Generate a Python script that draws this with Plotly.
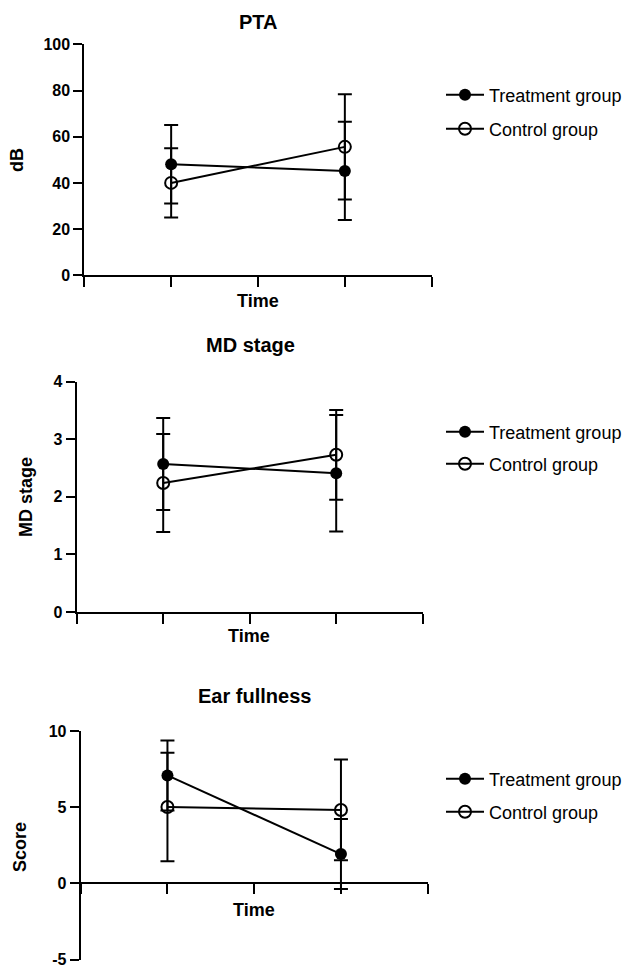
import plotly.graph_objects as go

W, H = 629, 969

# ---- data ----
time_pos = [1, 3]
groups = ["Treatment group", "Control group"]

pta_treat = [48.1, 45.2]
pta_treat_sd = [17.0, 21.3]
pta_ctrl = [40.0, 55.6]
pta_ctrl_sd = [15.0, 22.8]

md_treat = [2.57, 2.41]
md_treat_sd = [0.80, 1.01]
md_ctrl = [2.24, 2.73]
md_ctrl_sd = [0.85, 0.78]

ef_treat = [7.10, 1.93]
ef_treat_sd = [2.30, 2.30]
ef_ctrl = [5.02, 4.83]
ef_ctrl_sd = [3.57, 3.31]

titles = ["PTA", "MD stage", "Ear fullness"]
ytitles = ["dB", "MD stage", "Score"]
xtitle = "Time"
yranges = [[0, 100], [0, 4], [-5, 10]]
ytick_vals = [[0, 20, 40, 60, 80, 100], [0, 1, 2, 3, 4], [-5, 0, 5, 10]]
ytick_labels = [["0", "20", "40", "60", "80", "100"],
                ["0", "1", "2", "3", "4"],
                ["-5", "0", "5", "10"]]
xticks = [0, 1, 2, 3, 4]

FONT = "Liberation Sans, Arial, sans-serif"

def px_x(p):
    return p / W

def px_y(p):
    return 1 - p / H

# panel pixel geometry: (x_left, x_right, y_top, y_bottom)
panels = [
    (84.3, 431.7, 44.3, 275.3),
    (76.7, 422.7, 381.7, 612.0),
    (80.7, 427.7, 731.3, 959.5),
]
legend_rows_px = [(95, 129), (432, 464), (779, 812)]

data_sets = [
    (pta_treat, pta_treat_sd, pta_ctrl, pta_ctrl_sd),
    (md_treat, md_treat_sd, md_ctrl, md_ctrl_sd),
    (ef_treat, ef_treat_sd, ef_ctrl, ef_ctrl_sd),
]

fig = go.Figure()
layout_legends = {}
leg_n = 1

for i, (tr, trsd, ct, ctsd) in enumerate(data_sets):
    xa = "x" if i == 0 else f"x{i+1}"
    ya = "y" if i == 0 else f"y{i+1}"
    err = dict(type="data", visible=True, thickness=2, width=7, color="black")
    series = [
        (ct, ctsd, groups[1],
         dict(symbol="circle-open", size=12, color="black",
              line=dict(color="black", width=2))),
        (tr, trsd, groups[0],
         dict(symbol="circle", size=12, color="black")),
    ]
    rows = {groups[0]: legend_rows_px[i][0], groups[1]: legend_rows_px[i][1]}
    for vals, sds, name, mk in series:
        lname = "legend" if leg_n == 1 else f"legend{leg_n}"
        fig.add_trace(go.Scatter(
            x=time_pos, y=vals, error_y=dict(array=sds, **err),
            name=name, mode="lines+markers",
            line=dict(color="black", width=2), marker=mk,
            xaxis=xa, yaxis=ya, legend=lname, showlegend=True,
            cliponaxis=False,
        ))
        layout_legends[lname] = dict(
            x=px_x(441), y=px_y(rows[name]), xanchor="left", yanchor="middle",
            font=dict(family=FONT, size=18, color="black"),
            bgcolor="rgba(0,0,0,0)", borderwidth=0, itemwidth=38,
            itemclick=False, itemdoubleclick=False,
        )
        leg_n += 1

layout = dict(
    template="none",
    width=W, height=H,
    margin=dict(l=0, r=0, t=0, b=0, pad=0, autoexpand=False),
    paper_bgcolor="white", plot_bgcolor="white",
    font=dict(family=FONT, color="black"),
)
layout.update(layout_legends)

annotations = []
title_px = [(258, 22), (250, 345), (254, 696)]
ytitle_px = [(17, 160), (26, 497), (20, 847)]
time_px = [(258, 301), (249, 636), (254, 910)]

for i, (xl, xr, yt, yb) in enumerate(panels):
    sx = "" if i == 0 else str(i + 1)
    yr = yranges[i]
    ydom = [px_y(yb), px_y(yt)]
    xaxis = dict(
        domain=[px_x(xl), px_x(xr)], range=[0, 4],
        tickmode="array", tickvals=xticks, ticktext=[""] * len(xticks),
        ticks="outside", ticklen=10, tickwidth=2, tickcolor="black",
        showline=True, linewidth=2, linecolor="black",
        showgrid=False, zeroline=False, fixedrange=True, automargin=False,
    )
    if yr[0] < 0:
        # x axis crosses the y axis at zero
        frac = (0 - yr[0]) / (yr[1] - yr[0])
        xaxis.update(anchor="free", position=ydom[0] + frac * (ydom[1] - ydom[0]))
    else:
        xaxis.update(anchor="y" + sx)
    yaxis = dict(
        domain=ydom, range=yr, anchor="x" + sx,
        tickmode="array", tickvals=ytick_vals[i], ticktext=ytick_labels[i],
        ticks="outside", ticklen=9, tickwidth=2, tickcolor="black",
        tickfont=dict(family=FONT, size=16, color="black", weight="bold"),
        ticklabeloverflow="allow",
        showline=True, linewidth=2, linecolor="black",
        showgrid=False, zeroline=False, fixedrange=True, automargin=False,
    )
    layout["xaxis" + sx] = xaxis
    layout["yaxis" + sx] = yaxis

    annotations.append(dict(
        text=titles[i], x=px_x(title_px[i][0]), y=px_y(title_px[i][1]),
        xref="paper", yref="paper", showarrow=False,
        xanchor="center", yanchor="middle",
        font=dict(family=FONT, size=20, color="black", weight="bold"),
    ))
    annotations.append(dict(
        text=ytitles[i], x=px_x(ytitle_px[i][0]), y=px_y(ytitle_px[i][1]),
        xref="paper", yref="paper", showarrow=False, textangle=-90,
        xanchor="center", yanchor="middle",
        font=dict(family=FONT, size=18, color="black", weight="bold"),
    ))
    annotations.append(dict(
        text=xtitle, x=px_x(time_px[i][0]), y=px_y(time_px[i][1]),
        xref="paper", yref="paper", showarrow=False,
        xanchor="center", yanchor="middle",
        font=dict(family=FONT, size=18, color="black", weight="bold"),
    ))

layout["annotations"] = annotations
fig.update_layout(**layout)

fig.write_html("out.html", config={"displayModeBar": False},
               post_script="document.body.style.margin='0';")
